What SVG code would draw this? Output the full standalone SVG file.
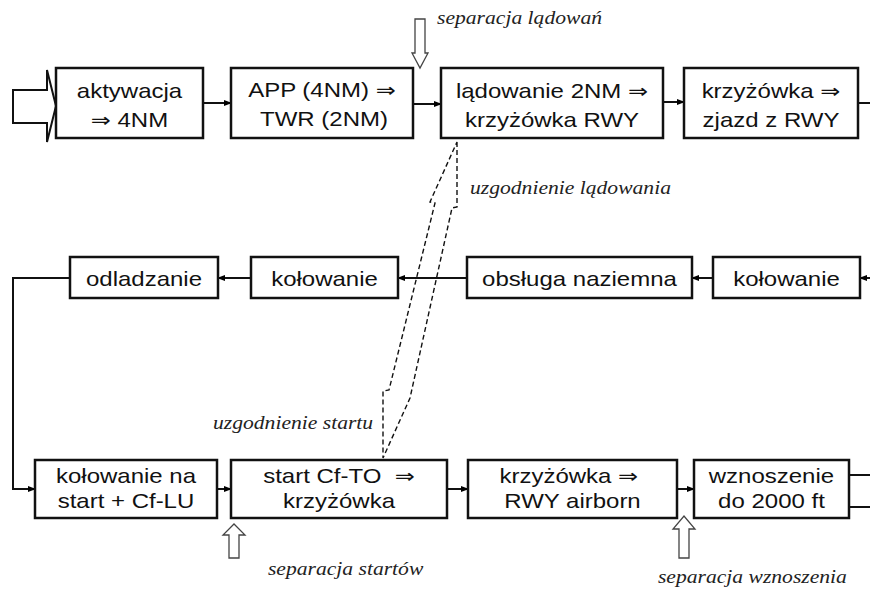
<svg xmlns="http://www.w3.org/2000/svg" width="870" height="589" viewBox="0 0 870 589">
<defs>
<marker id="ah" markerWidth="8" markerHeight="6" refX="7" refY="3" orient="auto" markerUnits="userSpaceOnUse">
<path d="M0,0 L8,3 L0,6 Z" fill="#000"/>
</marker>
<style>
.box{fill:#fff;stroke:#111;stroke-width:2.5}
.t{font-family:"Liberation Sans",Arial,"DejaVu Sans",sans-serif;font-size:20px;fill:#111;text-anchor:middle}
.lbl{font-family:"Liberation Serif","Times New Roman",serif;font-style:italic;font-size:18px;fill:#222}
.c{fill:none;stroke:#111;stroke-width:2}
.ca{fill:none;stroke:#111;stroke-width:2;marker-end:url(#ah)}
.hollow{fill:#fff;stroke:#444;stroke-width:1.3}
.dash{fill:none;stroke:#111;stroke-width:1.4;stroke-dasharray:5 3}
</style>
</defs>
<rect width="870" height="589" fill="#fff"/>

<g id="connectors">
<line class="ca" x1="203" y1="103" x2="231" y2="103"/>
<line class="ca" x1="413" y1="104" x2="441" y2="104"/>
<line class="ca" x1="663" y1="102" x2="684" y2="102"/>
<line class="c" x1="858" y1="103" x2="870" y2="103"/>
<line class="ca" x1="870" y1="278" x2="860" y2="278"/>
<line class="ca" x1="713" y1="278" x2="692" y2="278"/>
<line class="ca" x1="467" y1="278" x2="398" y2="278"/>
<line class="ca" x1="251" y1="278" x2="218" y2="278"/>
<polyline class="ca" points="70,278 13,278 13,489 35,489"/>
<line class="ca" x1="217" y1="489" x2="231" y2="489"/>
<line class="ca" x1="447" y1="489" x2="468" y2="489"/>
<line class="ca" x1="677" y1="489" x2="694" y2="489"/>
<line class="c" x1="849" y1="475" x2="870" y2="475"/>
<line class="c" x1="849" y1="507" x2="870" y2="507"/>
<polygon class="dash" points="457,142 457,207 452,208 410,398 383,458 383,391 389,390 435,203 430,202"/>
</g>

<g id="entry-arrow">
<polygon class="hollow" style="stroke:#111;stroke-width:2" points="13,90 47,90 47,70 56,106 47,142 47,123 13,123"/>
</g>
<g id="sep-landing-arrow">
<polygon class="hollow" points="415,19 425,19 425,53 428,53 420,68 412,53 415,53"/>
</g>
<g id="sep-takeoff-arrow">
<polygon class="hollow" points="229,558 239,558 239,535 245,535 234,524 223,535 229,535"/>
</g>
<g id="sep-climb-arrow">
<polygon class="hollow" points="679,558 689,558 689,529 695,529 684,516 673,529 679,529"/>
</g>

<g id="n-aktywacja">
<rect class="box" x="56" y="68" width="147" height="70"/>
<text class="t" transform="scale(1.2,1)" x="107.9" y="98">aktywacja</text>
<text class="t" transform="scale(1.2,1)" x="107.9" y="127">⇒ 4NM</text>
</g>
<g id="n-app">
<rect class="box" x="231" y="68" width="182" height="70"/>
<text class="t" transform="scale(1.2,1)" x="268.3" y="97">APP (4NM) ⇒</text>
<text class="t" transform="scale(1.2,1)" x="270" y="126">TWR (2NM)</text>
</g>
<g id="n-ladowanie">
<rect class="box" x="441" y="68" width="222" height="70"/>
<text class="t" transform="scale(1.2,1)" x="460" y="98">lądowanie 2NM ⇒</text>
<text class="t" transform="scale(1.2,1)" x="460" y="127">krzyżówka RWY</text>
</g>
<g id="n-zjazd">
<rect class="box" x="684" y="68" width="174" height="70"/>
<text class="t" transform="scale(1.2,1)" x="642.5" y="98">krzyżówka ⇒</text>
<text class="t" transform="scale(1.2,1)" x="642.5" y="127">zjazd z RWY</text>
</g>

<g id="n-odladzanie">
<rect class="box" x="70" y="257" width="148" height="41"/>
<text class="t" transform="scale(1.2,1)" x="120" y="286">odladzanie</text>
</g>
<g id="n-kolowanie1">
<rect class="box" x="251" y="257" width="147" height="41"/>
<text class="t" transform="scale(1.2,1)" x="270.4" y="286">kołowanie</text>
</g>
<g id="n-obsluga">
<rect class="box" x="467" y="257" width="225" height="41"/>
<text class="t" transform="scale(1.2,1)" x="482.9" y="286">obsługa naziemna</text>
</g>
<g id="n-kolowanie2">
<rect class="box" x="713" y="257" width="147" height="41"/>
<text class="t" transform="scale(1.2,1)" x="655.4" y="286">kołowanie</text>
</g>

<g id="n-kolowanie-start">
<rect class="box" x="35" y="460" width="182" height="58"/>
<text class="t" transform="scale(1.2,1)" x="105" y="483">kołowanie na</text>
<text class="t" transform="scale(1.2,1)" x="105" y="508">start + Cf-LU</text>
</g>
<g id="n-start">
<rect class="box" x="231" y="460" width="216" height="58"/>
<text class="t" transform="scale(1.2,1)" x="282.5" y="483">start Cf-TO&#160; ⇒</text>
<text class="t" transform="scale(1.2,1)" x="282.5" y="508">krzyżówka</text>
</g>
<g id="n-airborn">
<rect class="box" x="468" y="460" width="209" height="58"/>
<text class="t" transform="scale(1.2,1)" x="474" y="483">krzyżówka ⇒</text>
<text class="t" transform="scale(1.2,1)" x="477.1" y="508">RWY airborn</text>
</g>
<g id="n-wznoszenie">
<rect class="box" x="694" y="460" width="155" height="58"/>
<text class="t" transform="scale(1.2,1)" x="642.9" y="483">wznoszenie</text>
<text class="t" transform="scale(1.2,1)" x="642.9" y="508">do 2000 ft</text>
</g>

<g id="labels">
<text class="lbl" transform="scale(1.2,1)" x="364.2" y="24">separacja lądowań</text>
<text class="lbl" transform="scale(1.2,1)" x="391.7" y="194">uzgodnienie lądowania</text>
<text class="lbl" transform="scale(1.2,1)" x="177.5" y="429">uzgodnienie startu</text>
<text class="lbl" transform="scale(1.2,1)" x="223.3" y="575">separacja startów</text>
<text class="lbl" transform="scale(1.2,1)" x="548.3" y="583">separacja wznoszenia</text>
</g>
</svg>
